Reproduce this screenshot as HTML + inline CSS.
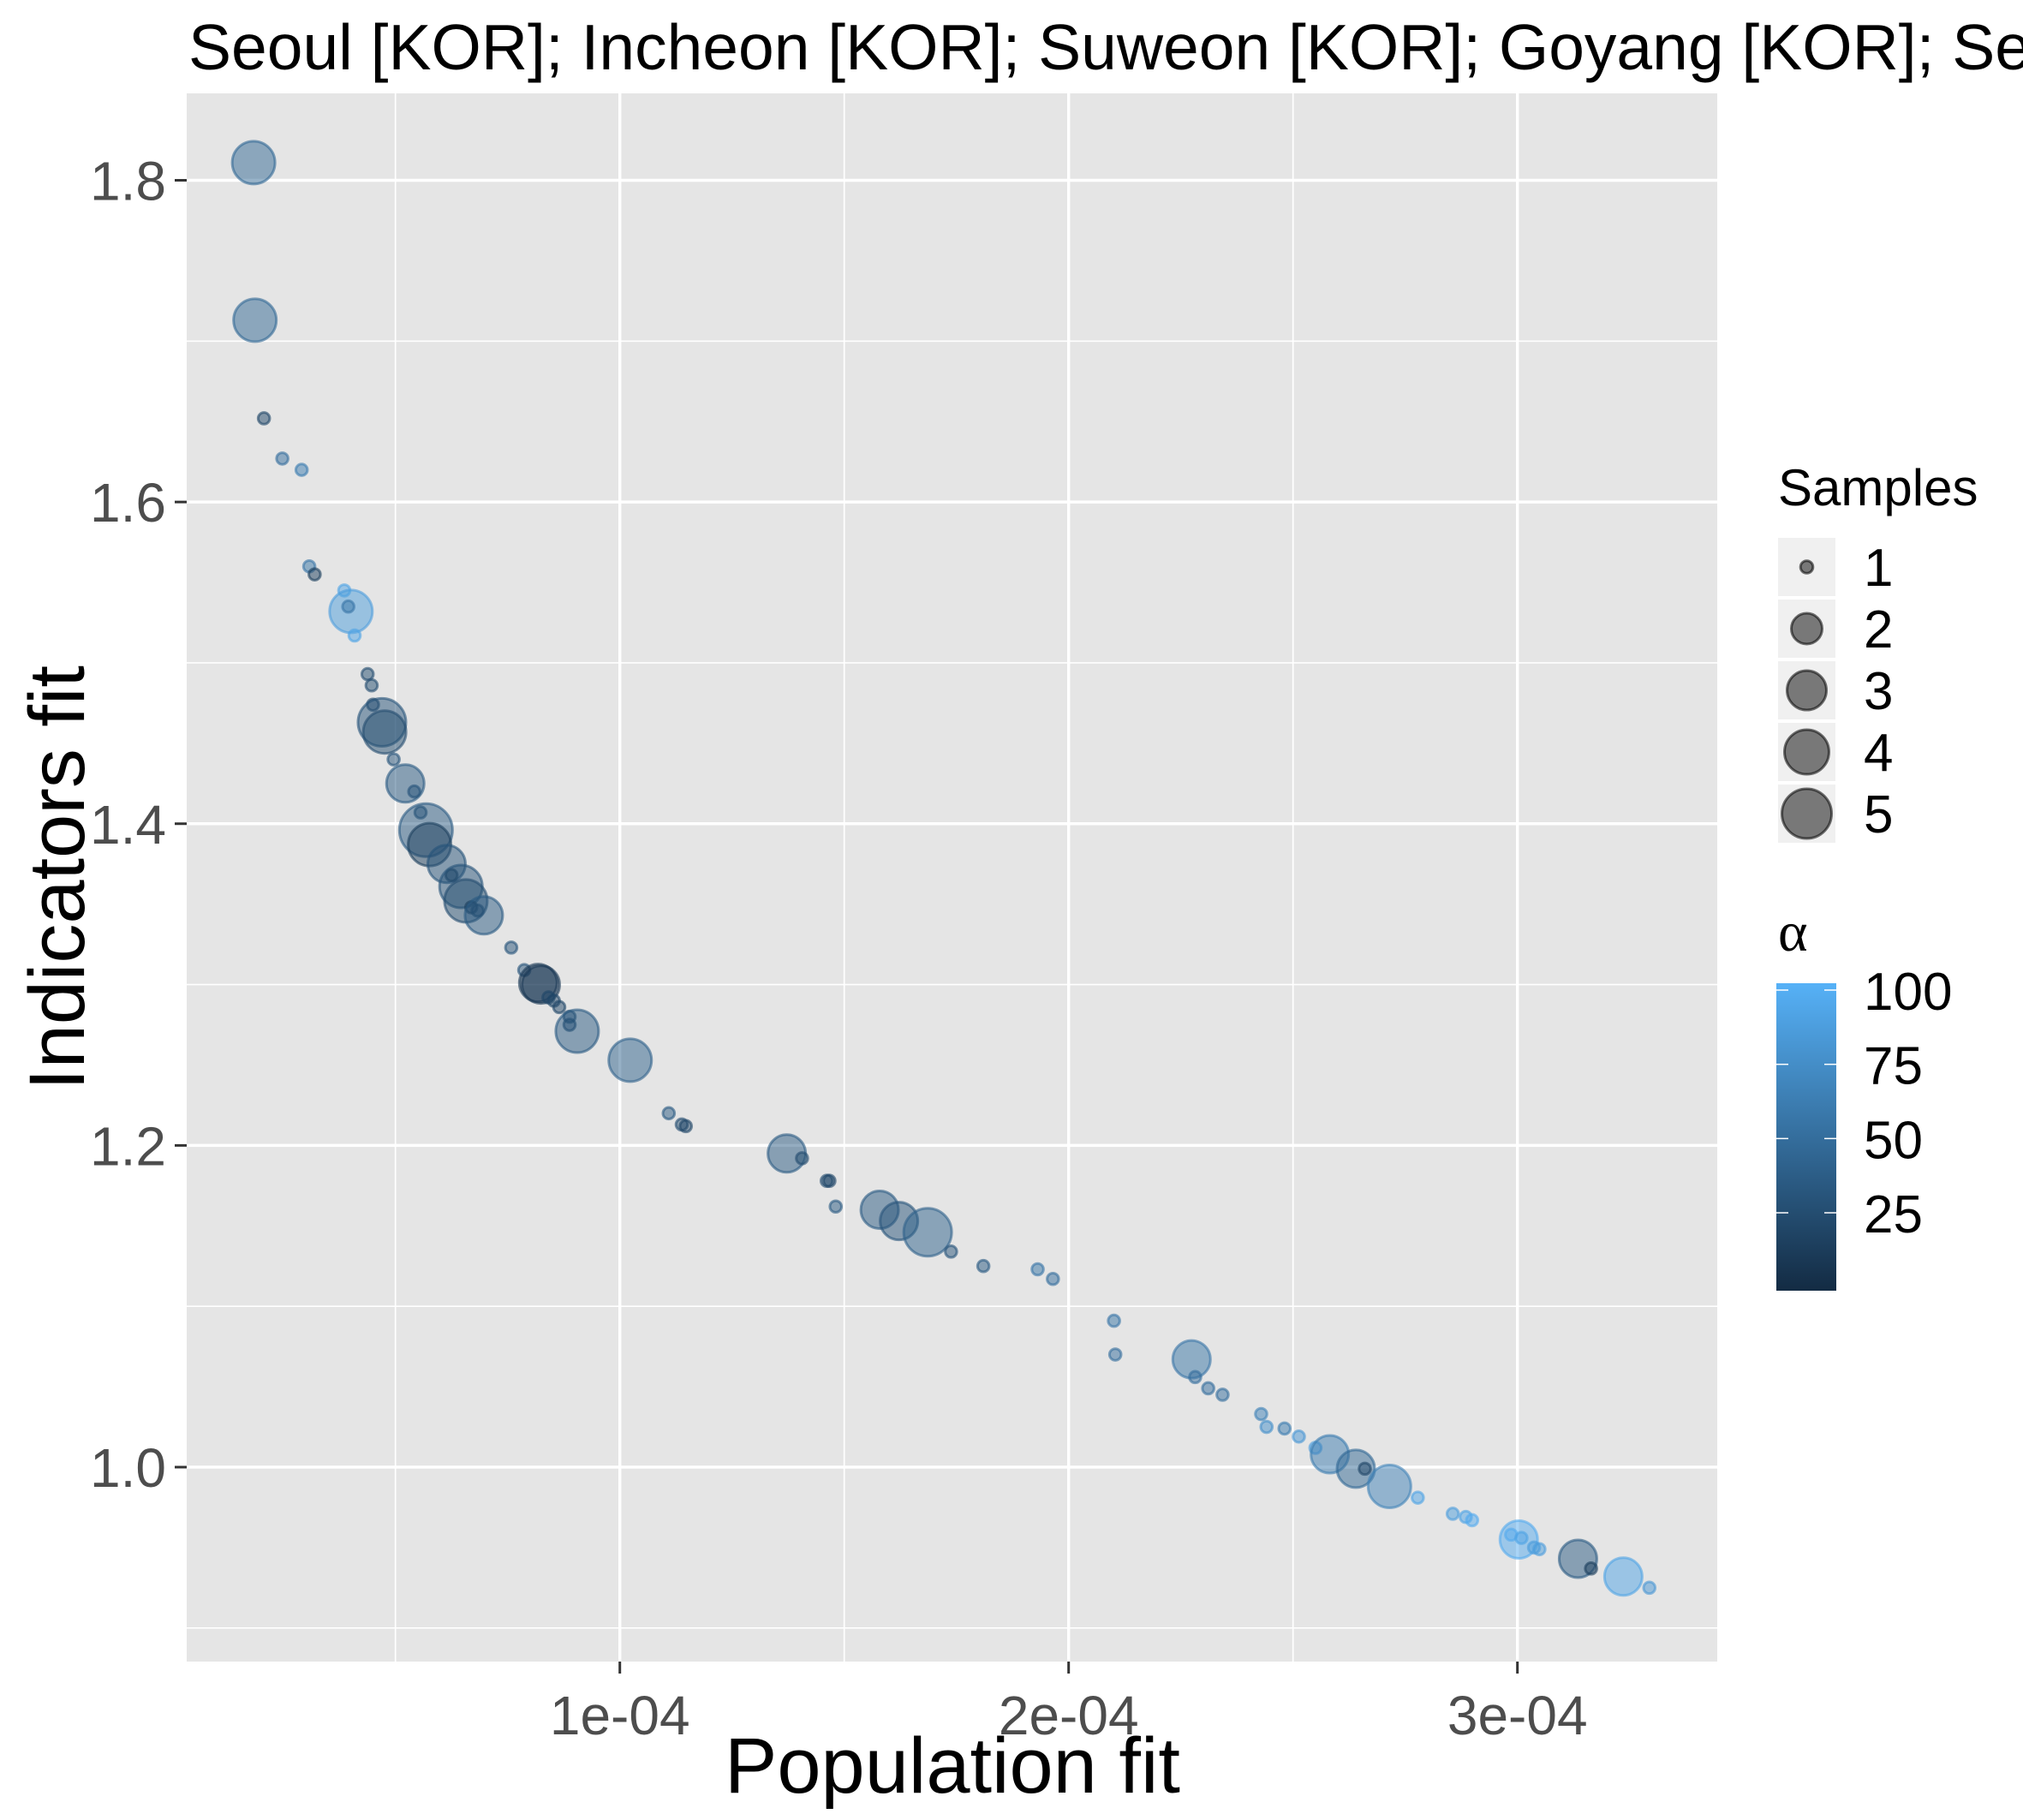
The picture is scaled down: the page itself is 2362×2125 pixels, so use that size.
<!DOCTYPE html>
<html><head><meta charset="utf-8"><style>
html,body{margin:0;padding:0;background:#fff;}
svg{display:block;font-family:"Liberation Sans",sans-serif;}
</style></head><body>
<svg id="chart" width="2362" height="2125" viewBox="0 0 2362 2125">
<defs>
<linearGradient id="cgrad" x1="0" y1="1" x2="0" y2="0">
<stop offset="0" stop-color="#132B43"/><stop offset="1" stop-color="#56B1F7"/>
</linearGradient>
<clipPath id="pclip"><rect x="218" y="109" width="1787" height="1831"/></clipPath>
</defs>
<text x="220" y="81" font-size="75" fill="#000">Seoul [KOR]; Incheon [KOR]; Suweon [KOR]; Goyang [KOR]; Seongnam [KOR]</text>
<rect x="218" y="109" width="1787" height="1831" fill="#e5e5e5"/>
<g id="grid"></g>
<g id="points" clip-path="url(#pclip)"></g>
<g id="axes"></g>
<text x="1112" y="2093" font-size="92" text-anchor="middle" fill="#000">Population fit</text>
<text transform="translate(98,1025) rotate(-90)" font-size="92" text-anchor="middle" fill="#000">Indicators fit</text>
<g id="sizeLegend">
<text x="2076" y="590" font-size="60" fill="#000">Samples</text>
</g>
<g>
<text x="2076" y="1110" font-size="66" font-family="'Liberation Serif',serif" fill="#000">α</text>
<rect x="2074" y="1148" width="70" height="359" fill="url(#cgrad)"/>
<g id="cbTicks"></g>
</g>
</svg>
<script>
// data
const popFit = [0.184,0.187,0.207,0.248,0.291,0.308,0.320,0.386,0.401,0.395,0.409,0.438,0.447,0.450,0.470,0.476,0.496,0.522,0.542,0.556,0.568,0.576,0.614,0.625,0.646,0.657,0.669,0.683,0.697,0.758,0.787,0.818,0.824,0.841,0.853,0.865,0.888,0.888,0.905,1.023,1.109,1.138,1.147,1.372,1.406,1.461,1.467,1.481,1.579,1.622,1.686,1.738,1.810,1.931,1.965,2.101,2.104,2.274,2.282,2.311,2.343,2.429,2.441,2.481,2.513,2.550,2.582,2.640,2.660,2.715,2.778,2.856,2.885,2.899,2.986,3.003,3.009,3.037,3.049,3.135,3.164,3.236,3.294];
const indFit = [1.811,1.713,1.652,1.627,1.620,1.560,1.555,1.545,1.532,1.535,1.517,1.493,1.486,1.474,1.463,1.457,1.440,1.425,1.420,1.407,1.396,1.387,1.375,1.368,1.361,1.352,1.348,1.346,1.343,1.323,1.309,1.301,1.300,1.292,1.290,1.286,1.280,1.275,1.271,1.253,1.220,1.213,1.212,1.195,1.192,1.178,1.178,1.162,1.160,1.153,1.146,1.134,1.125,1.123,1.117,1.091,1.070,1.067,1.056,1.049,1.045,1.033,1.025,1.024,1.019,1.012,1.008,0.999,0.999,0.988,0.981,0.971,0.969,0.967,0.958,0.955,0.956,0.950,0.949,0.943,0.937,0.932,0.925];
const samples = [4,4,1,1,1,1,1,1,4,1,1,1,1,1,5,4,1,3,1,1,6,4,3,1,4,4,1,1,3,1,1,3,3,1,1,1,1,1,4,4,1,1,1,3,1,1,1,1,3,3,5,1,1,1,1,1,1,3,1,1,1,1,1,1,1,1,3,3,1,4,1,1,1,1,1,3,1,1,1,3,1,3,1];
const alphaVal = [45,45,20,50,60,55,15,90,85,55,90,25,25,20,30,25,30,35,30,25,35,15,30,15,30,25,15,20,35,30,30,10,10,20,20,20,25,20,35,40,35,25,20,35,25,25,20,35,35,30,40,30,35,55,50,55,50,55,50,50,50,65,75,60,80,85,60,45,20,65,90,85,90,95,95,95,90,85,85,35,15,90,80];
const sizeLegendVals = [1,2,3,4,5];
const colorTicks = [25,50,75,100];
const xMajor = [1,2,3], xMinor = [0.5,1.5,2.5];
const xLabels = ["1e-04","2e-04","3e-04"];
const yMajor = [1.0,1.2,1.4,1.6,1.8], yMinor = [0.9,1.1,1.3,1.5,1.7];
const yLabels = ["1.0","1.2","1.4","1.6","1.8"];

const NS="http://www.w3.org/2000/svg";
const X0=218,X1=2005,Y0=109,Y1=1940;
function xs(v){return 199.7+v*524;}
function yScale(v){return 210.5+(1.8-v)*(1713-210.5)/0.8;}
function rad(n){const t=[0,6.8,17,22,25,28,31,34];return t[Math.min(n,7)];}
function col(a){const c0=[0x13,0x2B,0x43],c1=[0x56,0xB1,0xF7];const t=Math.max(0,Math.min(1,a/100));
return 'rgb('+c0.map((c,i)=>Math.round(c+(c1[i]-c)*t)).join(',')+')';}
function mk(tag,attrs,parent){const e=document.createElementNS(NS,tag);for(const k in attrs)e.setAttribute(k,attrs[k]);parent.appendChild(e);return e;}

const grid=document.getElementById('grid');
yMinor.forEach(v=>{const l=mk('line',{x1:X0,x2:X1,y1:yScale(v),y2:yScale(v),stroke:'#fff','stroke-width':1.7},grid);

});
xMinor.forEach(v=>{const l=mk('line',{x1:xs(v),x2:xs(v),y1:Y0,y2:Y1,stroke:'#fff','stroke-width':1.7},grid);

});
yMajor.forEach(v=>{const l=mk('line',{x1:X0,x2:X1,y1:yScale(v),y2:yScale(v),stroke:'#fff','stroke-width':3.4},grid);

});
xMajor.forEach(v=>{const l=mk('line',{x1:xs(v),x2:xs(v),y1:Y0,y2:Y1,stroke:'#fff','stroke-width':3.4},grid);

});

const axes=document.getElementById('axes');
yMajor.forEach((v,i)=>{const y=yScale(v);
const t=mk('line',{x1:204,x2:218,y1:y,y2:y,stroke:'#333','stroke-width':3},axes);


const tx=mk('text',{x:194,y:y+23,'font-size':64,'text-anchor':'end',fill:'#4d4d4d'},axes);tx.textContent=yLabels[i];

});
xMajor.forEach((v,i)=>{const x=xs(v);
const t=mk('line',{x1:x,x2:x,y1:1940,y2:1954,stroke:'#333','stroke-width':3},axes);


const tx=mk('text',{x:x,y:2025,'font-size':64,'text-anchor':'middle',fill:'#4d4d4d'},axes);tx.textContent=xLabels[i];

});

const pts=document.getElementById('points');
popFit.forEach((x,i)=>{const c=col(alphaVal[i]);
const p=mk('circle',{cx:xs(x),cy:yScale(indFit[i]),r:rad(samples[i]),fill:c,'fill-opacity':0.5,stroke:c,'stroke-opacity':0.6,'stroke-width':3},pts);

});

const sl=document.getElementById('sizeLegend');
sizeLegendVals.forEach((n,i)=>{const top=628+i*72;
const b=mk('rect',{x:2076,y:top,width:67,height:68,fill:'#f0f0f0'},sl);


const c=mk('circle',{cx:2109.5,cy:top+34,r:[0,7.3,18,23,26,29][n],fill:'#000','fill-opacity':0.5,stroke:'#000','stroke-opacity':0.55,'stroke-width':3},sl);


const t=mk('text',{x:2176,y:top+56,'font-size':62,fill:'#000'},sl);t.textContent=String(n);

});

const cb=document.getElementById('cbTicks');
function cbY(v){return 1156+(100-v)*3.467;}
colorTicks.forEach(v=>{const y=cbY(v);
const a=mk('line',{x1:2074,x2:2088,y1:y,y2:y,stroke:'#fff','stroke-width':1.5},cb);


const b=mk('line',{x1:2130,x2:2144,y1:y,y2:y,stroke:'#fff','stroke-width':1.5},cb);


const t=mk('text',{x:2176,y:y+23,'font-size':62,fill:'#000'},cb);t.textContent=String(v);

});
</script>
</body></html>
